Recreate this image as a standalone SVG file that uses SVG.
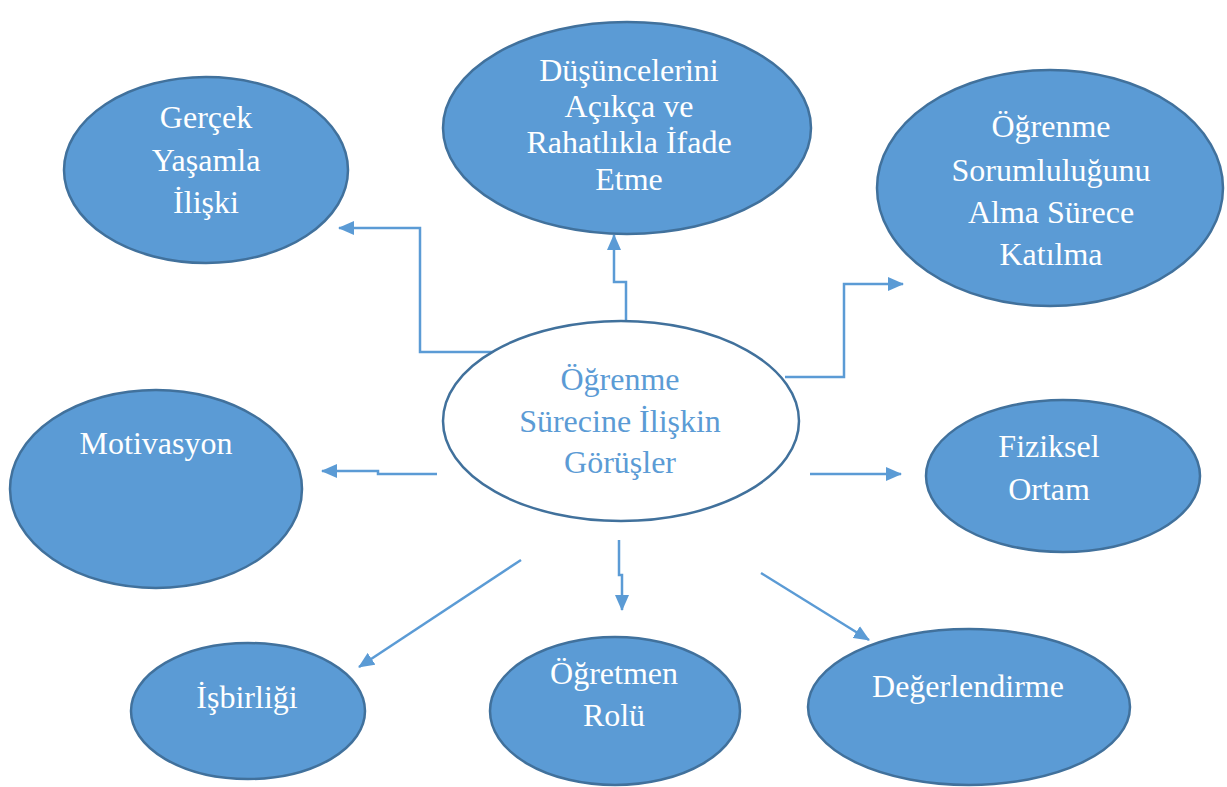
<svg xmlns="http://www.w3.org/2000/svg" width="1227" height="787" viewBox="0 0 1227 787">
<style>
.node{fill:#5B9BD5;stroke:#41719C;stroke-width:2.5}
.center{fill:#FFFFFF;stroke:#41719C;stroke-width:2.5}
.t{font-size:32px;fill:#FFFFFF;text-anchor:middle}
.tc{font-size:32px;fill:#5B9BD5;text-anchor:middle}
.c{fill:none;stroke:#5B9BD5;stroke-width:2.5;marker-end:url(#arr)}
</style>
<defs>
<marker id="arr" markerUnits="userSpaceOnUse" viewBox="0 0 16 14" refX="15" refY="7" markerWidth="16" markerHeight="14" orient="auto">
<path d="M0,0 L16,7 L0,14 Z" fill="#5B9BD5"/>
</marker>
</defs>
<rect width="1227" height="787" fill="#FFFFFF"/>
<g id="connectors">
<path class="c" d="M502,352 H420 V228 H339"/>
<path class="c" d="M626,321 V282 H614 V235"/>
<path class="c" d="M785,377 H844 V284 H903"/>
<path class="c" d="M437,474 H378 V471 H322"/>
<path class="c" d="M810,474 H901"/>
<path class="c" d="M521,560 L359,667"/>
<path class="c" d="M619,540 V575 H622 V610"/>
<path class="c" d="M761,573 L869,640"/>
</g>
<g font-family="Liberation Serif, Times New Roman, serif">
<g id="n-gercek">
<ellipse class="node" cx="206" cy="170" rx="142" ry="93"/>
<text class="t" x="206" y="128">Gerçek</text>
<text class="t" x="206" y="171">Yaşamla</text>
<text class="t" x="206" y="213">İlişki</text>
</g>
<g id="n-dusunce">
<ellipse class="node" cx="627" cy="128" rx="184" ry="106"/>
<text class="t" x="629" y="81">Düşüncelerini</text>
<text class="t" x="629" y="117">Açıkça ve</text>
<text class="t" x="629" y="153">Rahatlıkla İfade</text>
<text class="t" x="629" y="190">Etme</text>
</g>
<g id="n-sorumluluk">
<ellipse class="node" cx="1050" cy="188" rx="173" ry="118"/>
<text class="t" x="1051" y="137">Öğrenme</text>
<text class="t" x="1051" y="181">Sorumluluğunu</text>
<text class="t" x="1051" y="223">Alma Sürece</text>
<text class="t" x="1051" y="265">Katılma</text>
</g>
<g id="n-motivasyon">
<ellipse class="node" cx="156" cy="489" rx="146" ry="99"/>
<text class="t" x="156" y="454">Motivasyon</text>
</g>
<g id="n-fiziksel">
<ellipse class="node" cx="1063" cy="476" rx="137" ry="76"/>
<text class="t" x="1049" y="457">Fiziksel</text>
<text class="t" x="1049" y="500">Ortam</text>
</g>
<g id="n-isbirligi">
<ellipse class="node" cx="248" cy="711" rx="117" ry="68"/>
<text class="t" x="247" y="708">İşbirliği</text>
</g>
<g id="n-ogretmen">
<ellipse class="node" cx="615" cy="711" rx="125" ry="74"/>
<text class="t" x="614" y="684">Öğretmen</text>
<text class="t" x="614" y="726">Rolü</text>
</g>
<g id="n-degerlendirme">
<ellipse class="node" cx="969" cy="707" rx="161" ry="78"/>
<text class="t" x="968" y="697">Değerlendirme</text>
</g>
<g id="n-center">
<ellipse class="center" cx="621" cy="421" rx="178" ry="100"/>
<text class="tc" x="620" y="390">Öğrenme</text>
<text class="tc" x="620" y="432">Sürecine İlişkin</text>
<text class="tc" x="620" y="473">Görüşler</text>
</g>
</g>
</svg>
